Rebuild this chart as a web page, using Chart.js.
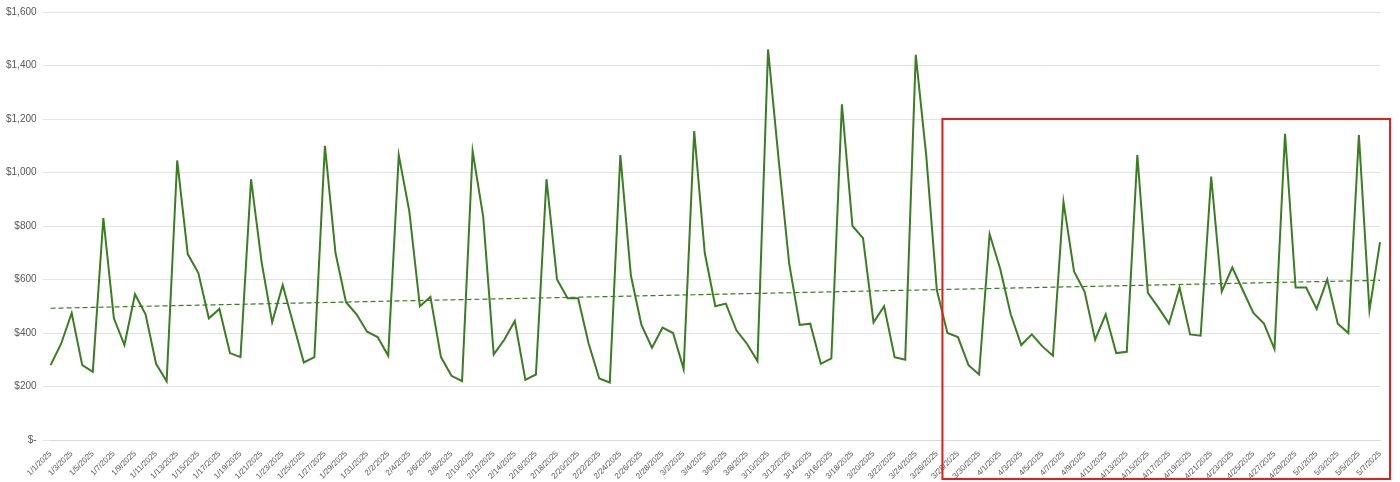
<!DOCTYPE html>
<html>
<head>
<meta charset="utf-8">
<script src="https://cdn.jsdelivr.net/npm/chart.js@4"></script>
<style>
  html, body { margin: 0; padding: 0; background: #fff; }
  #wrap { width: 1400px; height: 482px; }
</style>
</head>
<body>
<div id="wrap"><canvas id="c"></canvas></div>
<script>
// 每月的天数与每日销售额
const months = [1, 2, 3, 4, 5];
const daysInMonth = [31, 28, 31, 30, 7];
const janSales = [280, 360, 475, 280, 255, 830, 455, 355, 545, 470, 285, 220, 1045, 695, 625, 455, 490, 325, 310, 975, 665, 440, 580, 435, 290, 310, 1100, 700, 515, 470, 405];
const febSales = [385, 315, 1065, 855, 500, 535, 310, 240, 220, 1080, 835, 320, 375, 445, 225, 245, 975, 600, 530, 530, 360, 230, 215, 1065, 615, 430, 345, 420];
const marSales = [400, 265, 1155, 700, 500, 510, 410, 360, 295, 1460, 1050, 660, 430, 435, 285, 305, 1255, 800, 755, 440, 500, 310, 300, 1440, 1060, 560, 400, 385, 280, 245, 770];
const aprSales = [640, 470, 355, 395, 350, 315, 890, 630, 555, 375, 470, 325, 330, 1065, 550, 495, 435, 570, 395, 390, 985, 555, 645, 560, 475, 435, 340, 1145, 570, 570];
const maySales = [490, 600, 435, 400, 1140, 485, 740];
const yTicks = [0, 200, 400, 600, 800, 1000, 1200, 1400, 1600];

const labels = [];
months.forEach((m, i) => {
  for (let d = 1; d <= daysInMonth[i]; d++) labels.push(m + '/' + d + '/2025');
});
const sales = [].concat(janSales, febSales, marSales, aprSales, maySales);

// 线性趋势线（最小二乘）
const n = sales.length;
let sx = 0, sy = 0, sxx = 0, sxy = 0;
sales.forEach((v, i) => { sx += i; sy += v; sxx += i * i; sxy += i * v; });
const slope = (n * sxy - sx * sy) / (n * sxx - sx * sx);
const icpt = (sy - slope * sx) / n;
const trend = sales.map((v, i) => icpt + slope * i);

// 红色框注：从 3/27 附近到图表右侧，从 $1,200 到底部
const boxPlugin = {
  id: 'box',
  afterDraw(chart) {
    const { ctx, scales: { x, y } } = chart;
    const left = x.getPixelForValue(labels.indexOf('3/27/2025')) - 5;
    const top = y.getPixelForValue(1200);
    ctx.save();
    ctx.strokeStyle = '#e0201b';
    ctx.lineWidth = 2;
    ctx.strokeRect(left, top, chart.width - 10 - left, chart.height - 3 - top);
    ctx.restore();
  }
};

const fmt = v => v === 0 ? '$-' : '$' + v.toLocaleString('en-US');

new Chart(document.getElementById('c'), {
  type: 'line',
  data: {
    labels,
    datasets: [
      { data: sales, borderColor: '#3a7d22', borderWidth: 2, pointRadius: 0, tension: 0 },
      { data: trend, borderColor: '#3a7d22', borderWidth: 1.2, borderDash: [5, 3], pointRadius: 0 }
    ]
  },
  options: {
    responsive: true,
    maintainAspectRatio: false,
    animation: false,
    layout: { padding: { left: 0, right: 20, top: 1, bottom: 0 } },
    plugins: { legend: { display: false }, tooltip: { enabled: false } },
    scales: {
      x: {
        offset: false,
        grid: { display: false },
        border: { color: '#d9d9d9' },
        ticks: {
          autoSkip: false, maxRotation: 45, minRotation: 45, padding: 1,
          color: '#595959', font: { family: 'Liberation Sans', size: 8 },
          callback: (v, i) => i % 2 === 0 ? labels[i] : ''
        }
      },
      y: {
        min: 0, max: 1600,
        afterBuildTicks: ax => { ax.ticks = yTicks.map(v => ({ value: v })); },
        grid: { color: '#e3e3e3' },
        border: { display: false },
        ticks: { color: '#595959', font: { family: 'Liberation Sans', size: 10 }, callback: fmt, padding: 6 }
      }
    }
  },
  plugins: [boxPlugin]
});
</script>
</body>
</html>
